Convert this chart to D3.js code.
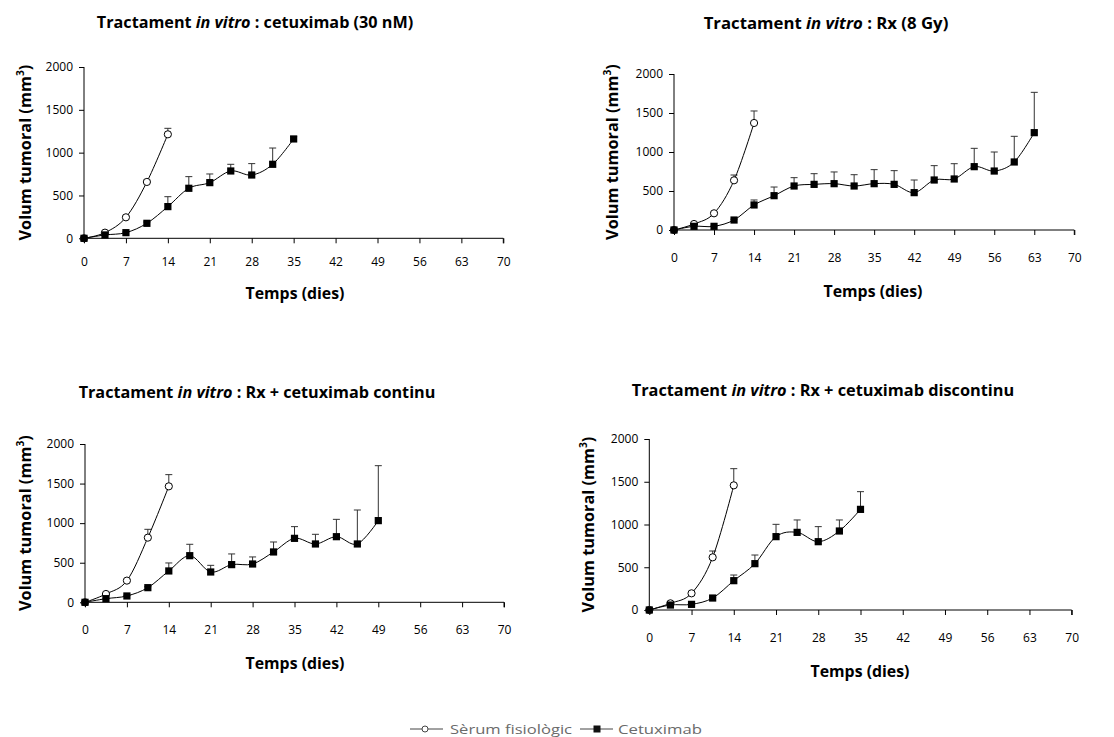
<!DOCTYPE html>
<html>
<head>
<meta charset="utf-8">
<script src="https://cdn.jsdelivr.net/npm/d3@7"></script>
<style>
  html, body { margin: 0; padding: 0; background: #fff; }
  svg { display: block; }
  text { font-family: "Open Sans", Lato, "DejaVu Sans", sans-serif; fill: #000; }
</style>
</head>
<body>
<svg id="chart" width="1114" height="737"></svg>
<script>
// Sampling days (every 3.5 days)
const days = [0, 3.5, 7, 10.5, 14, 17.5, 21, 24.5, 28, 31.5, 35, 38.5, 42, 45.5, 49, 52.5, 56, 59.5, 63];
const xTicks = [0, 7, 14, 21, 28, 35, 42, 49, 56, 63, 70];
const yTicks = [0, 500, 1000, 1500, 2000];
const seriesNames = ["Sèrum fisiològic", "Cetuximab"];
const panelTitles = ["cetuximab (30 nM)", "Rx (8 Gy)", "Rx + cetuximab continu", "Rx + cetuximab discontinu"];

// Tumour volume (mm³) — mean and upper error (SEM)
const salineA   = [0, 66, 245, 658, 1214];
const salineAErr = [0, 8, 15, 20, 70];
const cetuxA    = [0, 39, 66, 175, 370, 584, 650, 786, 739, 864, 1160];
const cetuxAErr = [0, 5, 8, 15, 116, 136, 101, 78, 133, 190, 27];

const salineB   = [0, 77, 214, 637, 1372];
const salineBErr = [0, 8, 15, 68, 154];
const cetuxB    = [0, 47, 47, 128, 321, 440, 564, 585, 594, 564, 594, 585, 479, 641, 654, 812, 756, 872, 1248];
const cetuxBErr = [0, 5, 5, 10, 64, 111, 107, 137, 150, 145, 180, 176, 162, 184, 196, 235, 244, 329, 517];

const salineC   = [0, 105, 274, 817, 1465];
const salineCErr = [0, 8, 15, 105, 148];
const cetuxC    = [0, 46, 80, 185, 396, 589, 383, 476, 484, 636, 808, 737, 829, 737, 1032];
const cetuxCErr = [0, 5, 8, 12, 101, 144, 84, 135, 89, 126, 148, 122, 219, 429, 694];

const salineD   = [0, 78, 195, 616, 1458];
const salineDErr = [0, 8, 12, 74, 195];
const cetuxD    = [0, 58, 66, 140, 343, 542, 858, 908, 799, 924, 1177];
const cetuxDErr = [0, 5, 8, 10, 66, 101, 144, 145, 176, 129, 207];

const panels = [
  { title: panelTitles[0], saline: salineA, salineErr: salineAErr, cetux: cetuxA, cetuxErr: cetuxAErr,
    x0: 84, x1: 503.3, y0: 238.3, y1: 67, titleX: 255, titleY: 28, titleW: 317,
    xLabX: 295, xLabY: 299, yLabX: 31, tickPad: 14 },
  { title: panelTitles[1], saline: salineB, salineErr: salineBErr, cetux: cetuxB, cetuxErr: cetuxBErr,
    x0: 674, x1: 1074.3, y0: 230, y1: 74, titleX: 826, titleY: 29, titleW: 245,
    xLabX: 873, xLabY: 297, yLabX: 618, tickPad: 18 },
  { title: panelTitles[2], saline: salineC, salineErr: salineCErr, cetux: cetuxC, cetuxErr: cetuxCErr,
    x0: 85, x1: 504, y0: 602.3, y1: 444, titleX: 257, titleY: 398, titleW: 357,
    xLabX: 295, xLabY: 669, yLabX: 31, tickPad: 18 },
  { title: panelTitles[3], saline: salineD, salineErr: salineDErr, cetux: cetuxD, cetuxErr: cetuxDErr,
    x0: 649.3, x1: 1071.7, y0: 610, y1: 439, titleX: 823, titleY: 396, titleW: 383,
    xLabX: 860, xLabY: 677, yLabX: 594, tickPad: 18 }
];

const svg = d3.select("#chart");
const smooth = d3.line().curve(d3.curveCardinal.tension(0));

// scale a text element's font size so that its rendered width equals `w`
function fitWidth(sel, w) {
  const node = sel.node();
  const fs = parseFloat(sel.attr("font-size"));
  const len = node.getBBox().width;
  if (len > 0) {
    const k = w / len;
    sel.attr("font-size", fs * k);
    sel.selectAll("tspan[font-size]").each(function () {
      const t = d3.select(this);
      t.attr("font-size", parseFloat(t.attr("font-size")) * k);
    });
  }
}

panels.forEach(p => {
  const x = d3.scaleLinear().domain([0, 70]).range([p.x0, p.x1]);
  const y = d3.scaleLinear().domain([0, 2000]).range([p.y0, p.y1]);
  const g = svg.append("g");

  // title
  const t = g.append("text").attr("x", p.titleX).attr("y", p.titleY)
    .attr("text-anchor", "middle").attr("font-size", 14).attr("font-weight", "bold");
  t.append("tspan").text("Tractament ");
  t.append("tspan").attr("font-style", "italic").text("in vitro");
  t.append("tspan").text(" : " + p.title);
  fitWidth(t, p.titleW);

  // axes
  const yAxis = g.append("g").attr("transform", `translate(${p.x0},0)`)
    .call(d3.axisLeft(y).tickValues(yTicks).tickSize(5).tickPadding(6).tickFormat(d3.format("d")));
  const xAxis = g.append("g").attr("transform", `translate(0,${p.y0})`)
    .call(d3.axisBottom(x).tickValues(xTicks).tickSize(5).tickPadding(p.tickPad).tickFormat(d3.format("d")));
  [yAxis, xAxis].forEach(a => {
    a.select(".domain").attr("stroke", "#000").attr("stroke-width", 1);
    a.selectAll(".tick line").attr("stroke", "#000");
    a.selectAll(".tick text").attr("font-size", 12).attr("fill", "#000")
      .style("font-family", "'Open Sans', Lato, sans-serif");
  });
  yAxis.select(".domain").attr("d", `M-0,${p.y1}V${p.y0}`);
  xAxis.select(".domain").attr("d", `M${p.x0},0H${p.x1}V5`);

  // axis titles
  const xl = g.append("text").attr("x", p.xLabX).attr("y", p.xLabY).attr("text-anchor", "middle")
    .attr("font-size", 16).attr("font-weight", "bold").text("Temps (dies)");
  fitWidth(xl, 99);
  const yl = g.append("text")
    .attr("transform", `translate(${p.yLabX},${(p.y0 + p.y1) / 2}) rotate(-90)`)
    .attr("text-anchor", "middle").attr("font-size", 16).attr("font-weight", "bold");
  yl.append("tspan").text("Volum tumoral (mm");
  yl.append("tspan").attr("font-size", 10).attr("dy", -7).text("3");
  yl.append("tspan").attr("dy", 7).text(")");
  fitWidth(yl, 176);

  const series = [
    { vals: p.saline, err: p.salineErr, type: "circle" },
    { vals: p.cetux, err: p.cetuxErr, type: "square" }
  ];

  series.forEach(s => {
    const pts = s.vals.map((v, i) => ({ d: days[i], v, e: s.err[i] }));
    // error bars (upper only)
    const eb = g.append("g").attr("stroke", "#333").attr("stroke-width", 1).attr("fill", "none");
    pts.forEach(pt => {
      if (pt.e <= 0) return;
      const cx = x(pt.d), top = y(pt.v + pt.e);
      eb.append("line").attr("x1", cx).attr("x2", cx).attr("y1", y(pt.v)).attr("y2", top);
      eb.append("line").attr("x1", cx - 3.5).attr("x2", cx + 3.5).attr("y1", top).attr("y2", top);
    });
    // smoothed line
    g.append("path").attr("d", smooth(pts.map(pt => [x(pt.d), y(pt.v)])))
      .attr("fill", "none").attr("stroke", "#000").attr("stroke-width", 1);
    // markers
    if (s.type === "circle") {
      g.selectAll(null).data(pts).enter().append("circle")
        .attr("cx", d => x(d.d)).attr("cy", d => y(d.v)).attr("r", 3.6)
        .attr("fill", "#fff").attr("stroke", "#000").attr("stroke-width", 1);
    } else {
      g.selectAll(null).data(pts).enter().append("rect")
        .attr("x", d => x(d.d) - 3.6).attr("y", d => y(d.v) - 3.6)
        .attr("width", 7.2).attr("height", 7.2).attr("fill", "#000");
    }
  });
});

// legend
const lg = svg.append("g").attr("transform", "translate(410,729)");
lg.append("line").attr("x1", 0).attr("x2", 33).attr("y1", 0).attr("y2", 0).attr("stroke", "#444");
lg.append("circle").attr("cx", 15).attr("cy", 0).attr("r", 3).attr("fill", "#fff").attr("stroke", "#444");
const l1 = lg.append("text").attr("x", 40).attr("y", 4.5).attr("font-size", 13).style("fill", "#6a6a6a").text(seriesNames[0]);
l1.attr("textLength", 122).attr("lengthAdjust", "spacingAndGlyphs");
lg.append("line").attr("x1", 170).attr("x2", 203).attr("y1", 0).attr("y2", 0).attr("stroke", "#444");
lg.append("rect").attr("x", 183.5).attr("y", -3.5).attr("width", 7).attr("height", 7).attr("fill", "#111");
const l2 = lg.append("text").attr("x", 208).attr("y", 4.5).attr("font-size", 13).style("fill", "#6a6a6a").text(seriesNames[1]);
l2.attr("textLength", 84).attr("lengthAdjust", "spacingAndGlyphs");
</script>
</body>
</html>
